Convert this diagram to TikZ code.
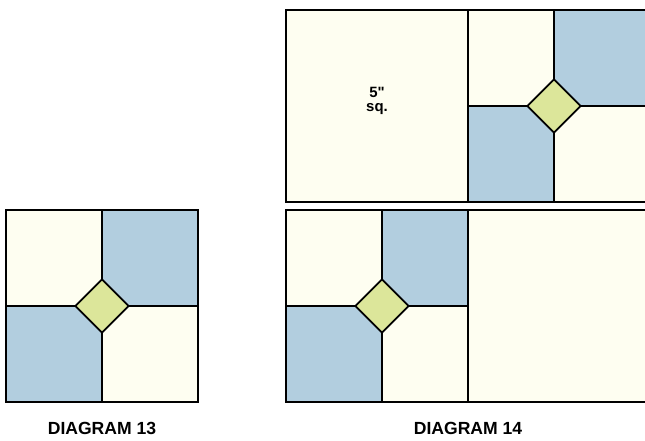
\documentclass[tikz,border=0pt]{standalone}
\usepackage{fontspec}
\setmainfont{Liberation Sans}
\newfontfamily\plainsans{Liberation Sans}
\usepackage{tikz}
\usetikzlibrary{shapes.geometric, positioning}

\definecolor{quiltcream}{HTML}{FEFEF1}
\definecolor{quiltblue}{HTML}{B2CEDF}
\definecolor{quiltgreen}{HTML}{DCE69A}

\begin{document}
\begin{tikzpicture}[
    x=0.02cm, y=-0.02cm,
    cream/.style={draw=black, line width=1pt, fill=quiltcream},
    blue/.style={draw=black, line width=1pt, fill=quiltblue},
    gem/.style={diamond, draw=black, line width=1pt, fill=quiltgreen, minimum width=1.08cm, minimum height=1.08cm, inner sep=0pt},
    caption/.style={font=\fontsize{10}{12}\selectfont\bfseries},
    sqlabel/.style={font=\plainsans\fontsize{8.5}{8}\selectfont\bfseries, align=center}
]

% Canvas
\useasboundingbox (0,0) rectangle (645,440);
\clip (0,0) rectangle (645,440);

% ===== DIAGRAM 13 =====
\filldraw[cream] (6,210) rectangle (102,306);
\filldraw[blue] (102,210) rectangle (198,306);
\filldraw[blue] (6,306) rectangle (102,402);
\filldraw[cream] (102,306) rectangle (198,402);
\node[gem] (gem13) at (102,306) {};
\node[caption] (cap13) at (102,428) {DIAGRAM 13};

% ===== DIAGRAM 14 - top row =====
% 5" square
\filldraw[cream] (286,10) rectangle (468,202);
\node[sqlabel] (sq) at (377,101) {5"\\sq.};
% Block
\filldraw[cream] (468,10) rectangle (554,106);
\filldraw[blue] (554,10) rectangle (650,106);
\filldraw[blue] (468,106) rectangle (554,202);
\filldraw[cream] (554,106) rectangle (650,202);
\node[gem] (gemtop) at (554,106) {};

% ===== DIAGRAM 14 - bottom row =====
% Block
\filldraw[cream] (286,210) rectangle (382,306);
\filldraw[blue] (382,210) rectangle (468,306);
\filldraw[blue] (286,306) rectangle (382,402);
\filldraw[cream] (382,306) rectangle (468,402);
\node[gem] (gembot) at (382,306) {};
% Plain square
\filldraw[cream] (468,210) rectangle (650,402);

\node[caption] (cap14) at (468,428) {DIAGRAM 14};

\end{tikzpicture}
\end{document}
